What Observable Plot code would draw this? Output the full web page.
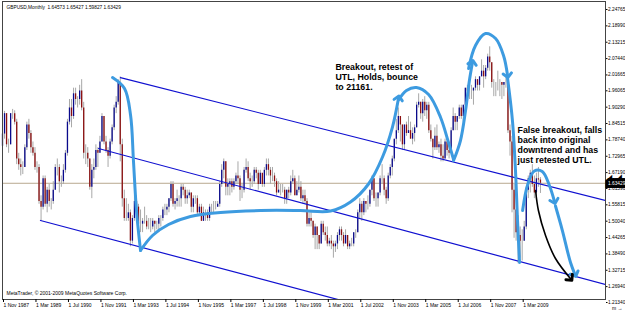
<!DOCTYPE html>
<html><head><meta charset="utf-8">
<script src="https://cdn.jsdelivr.net/npm/d3@7"></script>
<script src="https://cdn.jsdelivr.net/npm/@observablehq/plot@0.6"></script>
<style>
html,body{margin:0;padding:0;background:#fff;}
#chart{position:relative;width:625px;height:312px;overflow:hidden;}
svg{font-family:"Liberation Sans",Arial,sans-serif;}
</style></head><body><div id="chart"></div>
<script>
// GBPUSD monthly, Nov 1987 .. Dec 2009 (month index 0 = Nov 1987)
const firstOpen = 1.7650;
const close = [
 1.808,1.880,
 1.770,1.770,1.880,1.880,1.850,1.720,1.700,1.690,1.690,1.760,1.840,1.810,
 1.760,1.740,1.690,1.690,1.570,1.550,1.650,1.560,1.610,1.570,1.570,1.610,
 1.690,1.690,1.640,1.640,1.680,1.740,1.850,1.900,1.870,1.950,1.930,1.930,
 1.960,1.900,1.740,1.740,1.720,1.620,1.680,1.690,1.750,1.740,1.780,1.870,
 1.780,1.750,1.730,1.780,1.830,1.900,1.920,1.990,1.770,1.580,1.510,1.510,
 1.530,1.430,1.510,1.570,1.550,1.490,1.490,1.500,1.500,1.480,1.480,1.480,
 1.500,1.490,1.490,1.510,1.510,1.540,1.540,1.550,1.580,1.630,1.560,1.570,
 1.580,1.580,1.620,1.610,1.580,1.590,1.600,1.550,1.580,1.580,1.530,1.550,
 1.500,1.530,1.530,1.510,1.550,1.550,1.550,1.550,1.560,1.630,1.680,1.710,
 1.620,1.630,1.640,1.620,1.640,1.660,1.650,1.610,1.610,1.680,1.690,1.650,
 1.640,1.640,1.680,1.670,1.630,1.670,1.630,1.680,1.700,1.680,1.660,1.660,
 1.640,1.600,1.610,1.610,1.610,1.580,1.610,1.600,1.640,1.650,1.590,1.610,
 1.620,1.580,1.590,1.570,1.490,1.510,1.500,1.450,1.480,1.450,1.420,1.490,
 1.460,1.450,1.420,1.430,1.420,1.410,1.420,1.450,1.470,1.450,1.420,1.450,
 1.410,1.420,1.420,1.460,1.460,1.530,1.560,1.530,1.570,1.560,1.560,1.610,
 1.650,1.580,1.580,1.600,1.650,1.650,1.610,1.580,1.660,1.690,1.720,1.790,
 1.820,1.870,1.840,1.770,1.840,1.810,1.820,1.790,1.810,1.830,1.910,1.920,
 1.880,1.920,1.890,1.910,1.820,1.790,1.760,1.800,1.760,1.770,1.730,1.720,
 1.780,1.750,1.740,1.820,1.870,1.850,1.870,1.900,1.870,1.910,1.970,1.960,
 1.960,1.960,1.970,2.000,1.980,2.010,2.030,2.010,2.040,2.080,2.060,1.990,
 1.990,1.990,1.990,1.990,1.980,1.990,1.990,1.820,1.780,1.610,1.540,1.460,
 1.450,1.430,1.430,1.480,1.610,1.650,1.670,1.630,1.600,1.650,1.6457,1.63429
];
const high = [
 1.820,1.888,
 1.880,1.790,1.880,1.895,1.890,1.860,1.740,1.720,1.710,1.770,1.850,1.860,
 1.820,1.780,1.760,1.710,1.700,1.590,1.660,1.660,1.620,1.630,1.580,1.640,
 1.700,1.720,1.700,1.660,1.700,1.750,1.860,1.930,1.930,1.970,1.970,1.940,
 1.980,2.000,1.920,1.770,1.760,1.720,1.700,1.720,1.770,1.760,1.800,1.880,
 1.870,1.800,1.760,1.790,1.840,1.910,1.940,2.000,2.010,1.790,1.610,1.580,
 1.560,1.540,1.520,1.590,1.590,1.560,1.540,1.510,1.550,1.520,1.510,1.510,
 1.510,1.500,1.500,1.520,1.520,1.550,1.560,1.560,1.580,1.640,1.640,1.580,
 1.610,1.590,1.630,1.630,1.620,1.610,1.610,1.600,1.590,1.590,1.590,1.560,
 1.560,1.550,1.540,1.540,1.560,1.560,1.570,1.570,1.570,1.640,1.700,1.720,
 1.710,1.650,1.650,1.650,1.650,1.670,1.710,1.660,1.630,1.690,1.720,1.710,
 1.670,1.660,1.690,1.690,1.680,1.680,1.660,1.690,1.720,1.720,1.690,1.690,
 1.670,1.650,1.640,1.630,1.630,1.620,1.610,1.620,1.660,1.680,1.660,1.640,
 1.660,1.640,1.610,1.610,1.580,1.530,1.530,1.500,1.490,1.480,1.450,1.500,
 1.500,1.480,1.480,1.440,1.450,1.430,1.430,1.460,1.480,1.480,1.460,1.470,
 1.450,1.430,1.440,1.460,1.470,1.540,1.580,1.570,1.580,1.570,1.590,1.610,
 1.660,1.650,1.600,1.600,1.660,1.700,1.660,1.620,1.670,1.700,1.730,1.790,
 1.860,1.900,1.870,1.840,1.840,1.850,1.870,1.850,1.830,1.840,1.920,1.950,
 1.920,1.930,1.940,1.920,1.920,1.840,1.790,1.830,1.840,1.780,1.790,1.770,
 1.790,1.780,1.770,1.830,1.900,1.880,1.870,1.910,1.910,1.910,1.970,1.980,
 1.980,1.980,1.970,2.010,2.000,2.010,2.070,2.050,2.050,2.090,2.116,2.060,
 2.000,1.990,2.030,2.000,1.990,1.990,2.010,1.990,1.840,1.800,1.630,1.540,
 1.520,1.480,1.470,1.500,1.620,1.660,1.680,1.700,1.660,1.670,1.690,1.65427
];
const low = [
 1.735,1.790,
 1.760,1.740,1.770,1.860,1.840,1.700,1.680,1.660,1.665,1.690,1.750,1.790,
 1.740,1.730,1.680,1.670,1.560,1.500,1.540,1.550,1.530,1.550,1.540,1.560,
 1.610,1.660,1.600,1.620,1.630,1.670,1.730,1.840,1.830,1.860,1.910,1.900,
 1.910,1.890,1.720,1.700,1.690,1.610,1.580,1.650,1.680,1.690,1.740,1.780,
 1.770,1.740,1.690,1.720,1.770,1.820,1.880,1.910,1.710,1.550,1.500,1.500,
 1.500,1.410,1.420,1.500,1.520,1.480,1.460,1.460,1.490,1.470,1.470,1.460,
 1.470,1.460,1.470,1.460,1.480,1.500,1.520,1.520,1.530,1.570,1.550,1.540,
 1.550,1.550,1.550,1.590,1.560,1.560,1.580,1.530,1.530,1.560,1.520,1.520,
 1.500,1.500,1.500,1.500,1.500,1.530,1.530,1.540,1.550,1.550,1.620,1.650,
 1.590,1.590,1.590,1.600,1.610,1.630,1.630,1.570,1.580,1.600,1.670,1.640,
 1.610,1.620,1.630,1.650,1.610,1.630,1.620,1.620,1.660,1.660,1.630,1.640,
 1.620,1.590,1.600,1.590,1.600,1.560,1.560,1.580,1.590,1.630,1.590,1.590,
 1.600,1.570,1.560,1.560,1.480,1.480,1.480,1.440,1.400,1.400,1.400,1.420,
 1.450,1.430,1.410,1.410,1.400,1.370,1.390,1.400,1.430,1.430,1.410,1.420,
 1.400,1.400,1.410,1.410,1.440,1.460,1.510,1.500,1.520,1.530,1.540,1.550,
 1.590,1.570,1.550,1.550,1.590,1.630,1.590,1.560,1.570,1.650,1.660,1.710,
 1.770,1.810,1.780,1.750,1.750,1.800,1.810,1.790,1.770,1.780,1.830,1.900,
 1.860,1.850,1.870,1.860,1.810,1.780,1.720,1.750,1.750,1.740,1.710,1.710,
 1.720,1.730,1.720,1.740,1.820,1.820,1.820,1.860,1.860,1.850,1.900,1.940,
 1.930,1.930,1.910,1.960,1.960,1.960,2.010,1.970,2.000,2.030,2.030,1.970,
 1.940,1.940,1.960,1.940,1.930,1.940,1.970,1.810,1.730,1.530,1.440,1.430,
 1.350,1.370,1.360,1.430,1.470,1.580,1.600,1.620,1.580,1.570,1.620,1.59827
];

// axis ticks
const xTickMonths = [0,16,32,48,64,80,96,112,128,144,160,176,192,208,224,240,256];
const xTickLabels = ["1 Nov 1987","1 Mar 1989","1 Jul 1990","1 Nov 1991","1 Mar 1993","1 Jul 1994","1 Nov 1995","1 Mar 1997","1 Jul 1998","1 Nov 1999","1 Mar 2001","1 Jul 2002","1 Nov 2003","1 Mar 2005","1 Jul 2006","1 Nov 2007","1 Mar 2009"];
const yTicks = [2.24765,2.18990,2.13215,2.07440,2.01665,1.96065,1.90290,1.84515,1.78740,1.72965,1.67190,1.61590,1.55815,1.50040,1.44265,1.38490,1.32715,1.26940,1.21340];
const lastPrice = 1.63429;
const header = "GBPUSD,Monthly  1.64573 1.65427 1.59827 1.63429";
const footer = "MetaTrader, © 2001-2009 MetaQuotes Software Corp.";

// channel trend lines: [month, price]
const upperLine = [[58.1,2.007],[297,1.5735]];
const middleLine = [[47.3,1.757],[297,1.277]];
const lowerLine = [[18.7,1.503],[297,0.973]];

// hand-drawn light-blue paths: [month, price]
const curveDrop92 = [[54.2,2.0076],[60.1,1.9688],[63.1,1.8735],[64.5,1.7146],[66.0,1.5381],[68.0,1.397]];
const curveBase = [[68.0,1.397],[73.9,1.4499],[81.8,1.4887],[92.6,1.5169],[107.4,1.531],[127.1,1.5381],[146.8,1.5381],[161.6,1.5363],[171.4,1.5681],[180.3,1.6317],[187.2,1.7269],[192.1,1.8328],[195.1,1.9352]];
const curveRetest = [[195.1,1.9282],[199.0,1.9617],[203.9,1.9723],[209.9,1.9476],[215.8,1.8664],[219.7,1.7782],[222.2,1.7182]];
const curveUp = [[222.2,1.7146],[225.6,1.7852],[228.1,1.8911],[230.0,1.997],[231.5,2.0606]];
const curveTop = [[229.6,2.0394],[233.0,2.1206],[237.9,2.1629],[242.9,2.1453],[246.8,2.0853],[248.8,2.0147]];
const curveCrash = [[248.8,2.0041],[251.2,1.8558],[252.7,1.6793],[253.7,1.5028],[254.7,1.3546]];
const curveRetest09 = [[256.2,1.5381],[258.8,1.6317],[262.0,1.6776],[265.9,1.6757],[269.4,1.6264],[271.9,1.5699]];
const curveDown = [[272.4,1.5540],[275.8,1.4675],[279.8,1.3546],[282.0,1.3123]];
const blackArrow = [[262.6,1.6087],[264.0,1.5381],[267.5,1.4499],[272.4,1.3687],[279.8,1.2976]];

const note1 = ["Breakout, retest of","UTL, Holds, bounce","to 21161."];
const note2 = ["False breakout, falls","back into original","downtrend and has","just retested UTL."];

const candles = close.map((c,i)=>({m:i, open: i===0?firstOpen:close[i-1], close:c, high:high[i], low:low[i]}));
const seg = a => a.map(([m,p])=>({m,p}));
const lightBlue = "#3d9be0";

const chart = Plot.plot({
  width:625, height:312,
  marginLeft:2, marginRight:20, marginTop:1, marginBottom:13,
  x:{domain:[0,297.04], axis:null},
  y:{domain:[1.2240,2.2759], axis:null},
  style:{background:"#fff", overflow:"visible"},
  marks:[
    Plot.ruleY([lastPrice],{stroke:"#b8a890", strokeWidth:1}),
    Plot.ruleX(candles,{x:"m", y1:"low", y2:"high", stroke:"#a8a8a8", strokeWidth:1}),
    Plot.ruleX(candles,{x:"m", y1:"open", y2:"close", stroke:d=>d.close>=d.open?"#0a0a8c":"#8c1010", strokeWidth:1.3}),
    Plot.line(seg(upperLine),{x:"m",y:"p",stroke:"#1010d0",strokeWidth:1.2,clip:true}),
    Plot.line(seg(middleLine),{x:"m",y:"p",stroke:"#1010d0",strokeWidth:1.2,clip:true}),
    Plot.line(seg(lowerLine),{x:"m",y:"p",stroke:"#1010d0",strokeWidth:1.2,clip:true}),
    Plot.line(seg(curveDrop92),{x:"m",y:"p",stroke:lightBlue,strokeWidth:3,curve:"catmull-rom"}),
    Plot.line(seg(curveBase),{x:"m",y:"p",stroke:lightBlue,strokeWidth:3,curve:"catmull-rom",markerEnd:"arrow"}),
    Plot.line(seg(curveRetest),{x:"m",y:"p",stroke:lightBlue,strokeWidth:3,curve:"catmull-rom"}),
    Plot.line(seg(curveUp),{x:"m",y:"p",stroke:lightBlue,strokeWidth:3,curve:"catmull-rom",markerEnd:"arrow"}),
    Plot.line(seg(curveTop),{x:"m",y:"p",stroke:lightBlue,strokeWidth:3,curve:"catmull-rom",markerEnd:"arrow"}),
    Plot.line(seg(curveCrash),{x:"m",y:"p",stroke:lightBlue,strokeWidth:3,curve:"catmull-rom"}),
    Plot.line(seg(curveRetest09),{x:"m",y:"p",stroke:lightBlue,strokeWidth:3,curve:"catmull-rom",markerEnd:"arrow"}),
    Plot.line(seg(curveDown),{x:"m",y:"p",stroke:lightBlue,strokeWidth:3,curve:"catmull-rom",markerEnd:"arrow"}),
    Plot.line(seg(blackArrow),{x:"m",y:"p",stroke:"#000",strokeWidth:1.6,curve:"catmull-rom",markerEnd:"arrow"}),
    Plot.text([note1.join("\n")],{x:()=>164,y:()=>2.0606,text:d=>d,textAnchor:"start",lineAnchor:"top",lineHeight:1.15,fontSize:8.8,fontWeight:"bold",fill:"#000"}),
    Plot.text([note2.join("\n")],{x:()=>253.7,y:()=>1.838,text:d=>d,textAnchor:"start",lineAnchor:"top",lineHeight:1.15,fontSize:8.8,fontWeight:"bold",fill:"#000"}),
    Plot.frame({stroke:"#444"}),
    Plot.axisY(yTicks,{anchor:"right", tickSize:1.5, tickPadding:1, tickFormat:d=>d.toFixed(5), fontSize:4.8, stroke:"#000"}),
    Plot.axisX(xTickMonths,{anchor:"bottom", tickSize:3, tickPadding:1, tickFormat:(d,i)=>xTickLabels[i], textAnchor:"start", dx:1, fontSize:5.0, stroke:"#000"}),
    Plot.text([lastPrice],{y:d=>d, frameAnchor:"right", textAnchor:"start", dx:2.5, text:d=>d.toFixed(5), fontSize:4.8, fill:"#fff", stroke:"#000", strokeWidth:6, strokeLinejoin:"miter", paintOrder:"stroke"}),
    Plot.text([header],{frameAnchor:"top-left", dx:4, dy:4, textAnchor:"start", lineAnchor:"top", fontSize:4.8, fill:"#000"}),
    Plot.text([footer],{frameAnchor:"bottom-left", dx:4, dy:-5, textAnchor:"start", lineAnchor:"bottom", fontSize:5.0, fill:"#000"})
  ]
});
// smaller open arrowheads, like the hand-drawn chevrons of the reference
chart.querySelectorAll("marker").forEach(mk => {
  mk.setAttribute("markerUnits","userSpaceOnUse");
  mk.setAttribute("markerWidth", 14);
  mk.setAttribute("markerHeight", 14);
  mk.setAttribute("stroke-width", 2.1);
});
document.getElementById("chart").appendChild(chart);
</script></body></html>
